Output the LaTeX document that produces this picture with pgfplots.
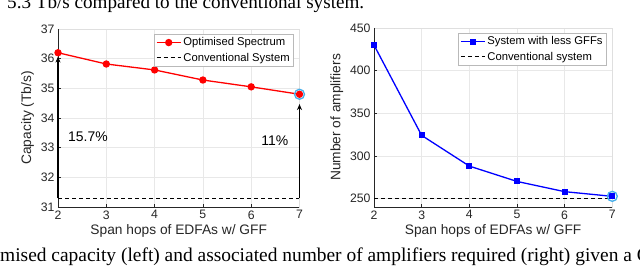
\documentclass[border=0pt]{standalone}
\usepackage{pgfplots}
\pgfplotsset{compat=1.18}
\usepackage{fontspec}
\setmainfont{Liberation Sans}
\newfontfamily\capfont{Liberation Serif}
\usetikzlibrary{arrows.meta}
\definecolor{mred}{RGB}{255,0,0}
\definecolor{mblue}{RGB}{0,0,255}
\definecolor{ring}{RGB}{70,175,235}
\definecolor{axgray}{RGB}{38,38,38}
\pgfplotsset{
  mystyle/.style={
    scale only axis,
    xmin=2, xmax=7, xtick={2,3,4,5,6,7},
    grid=major,
    grid style={draw=gray!18, line width=0.5bp},
    axis line style={draw=gray!25, line width=0.6bp},
    tick align=inside,
    major tick length=3bp,
    tick style={draw=axgray, line width=0.5bp},
    xtick pos=bottom, ytick pos=left,
    /pgf/number format/assume math mode=true,
    tick label style={font=\fontsize{12.3}{14}\selectfont, text=axgray},
    label style={font=\fontsize{13.8}{16}\selectfont, text=axgray},
    xlabel={Span hops of EDFAs w/ GFF},
    legend cell align=left,
    legend style={draw=gray!55, line width=0.5bp, font=\fontsize{11.3}{13}\selectfont,
      at={(1,1)}, anchor=north east, xshift=-6bp, yshift=-5bp,
      inner sep=1.5bp, row sep=1.5bp},
    legend image code/.code={
      \draw[mark repeat=2,mark phase=2,#1]
        plot coordinates {(0bp,0bp) (12bp,0bp) (24bp,0bp)};},
  }
}
\begin{document}
\begin{tikzpicture}
\useasboundingbox (0bp,0bp) rectangle (640bp,268bp);
% caption fragments
\node[anchor=base west, inner sep=0, font=\capfont\fontsize{19.2}{22}\selectfont] at (7bp,259bp) {5.3 Tb/s compared to the conventional system.};
\node[anchor=base west, inner sep=0, font=\capfont\fontsize{19.5}{22}\selectfont] at (0bp,7bp) {mised capacity (left) and associated number of amplifiers required (right) given a G};

\begin{axis}[mystyle,
  at={(58bp,61bp)}, anchor=south west,
  width=241.5bp, height=178bp,
  ymin=31, ymax=37, ytick={31,32,...,37},
  ylabel={Capacity (Tb/s)},
  xlabel style={yshift=1bp},
  clip=false,
]
\draw[axgray, line width=0.6bp] (rel axis cs:0,1) -- (rel axis cs:0,0) -- (rel axis cs:1,0);
\addplot[mred, line width=1.3bp, mark=*, mark size=3bp] coordinates {
(2,36.20) (3,35.82) (4,35.62) (5,35.28) (6,35.05) (7,34.80)};
\addlegendentry{Optimised Spectrum}
\addplot[black, line width=1.2bp, dash pattern=on 4bp off 3bp] coordinates {(2,31.3) (7,31.3)};
\addlegendentry{Conventional System}
\addplot[ring, line width=1.3bp, only marks, mark=o, mark size=5bp, forget plot] coordinates {(7,34.80)};
\addplot[black, line width=1.5bp, -{Stealth[length=6bp,width=5bp]}, forget plot] coordinates {(2,31.3) (2,36.07)};
\addplot[black, line width=1.5bp, -{Stealth[length=6bp,width=5bp]}, forget plot] coordinates {(7,31.3) (7,34.47)};
\node[font=\fontsize{14}{16}\selectfont, text=black] at (axis cs:2.62,33.36) {15.7\%};
\node[font=\fontsize{14}{16}\selectfont, text=black] at (axis cs:6.49,33.22) {11\%};
\end{axis}

\begin{axis}[mystyle,
  at={(374bp,61bp)}, anchor=south west,
  width=238.3bp, height=179bp,
  ymin=240, ymax=450, ytick={250,300,...,450},
  ylabel={Number of amplifiers},
  xlabel style={yshift=1bp},
  clip=false,
]
\draw[axgray, line width=0.6bp] (rel axis cs:0,1) -- (rel axis cs:0,0) -- (rel axis cs:1,0);
\addplot[mblue, line width=1.3bp, mark=square*, mark size=2.4bp] coordinates {
(2,430) (3,324) (4,288) (5,270) (6,258) (7,252.5)};
\addlegendentry{System with less GFFs}
\addplot[black, line width=1.2bp, dash pattern=on 4bp off 3bp] coordinates {(2,250) (7,250)};
\addlegendentry{Conventional system}
\addplot[ring, line width=1.3bp, only marks, mark=o, mark size=5bp, forget plot] coordinates {(7,252.5)};
\end{axis}
\end{tikzpicture}
\end{document}
